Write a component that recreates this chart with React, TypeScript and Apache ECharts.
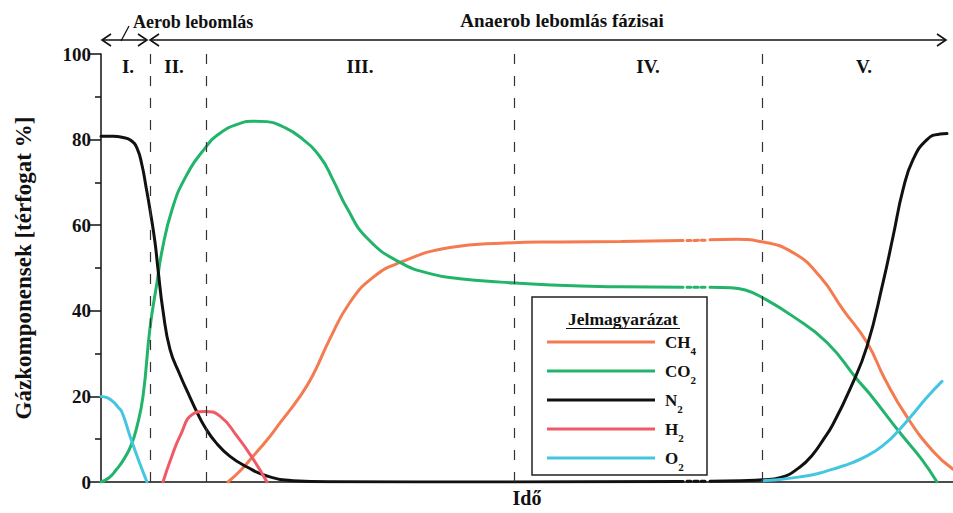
import React, { useEffect, useRef } from "react";
import * as echarts from "echarts";

const FONT = "'Liberation Serif', 'Times New Roman', serif";

// x: time (arbitrary units, 0..852), y: volume %
const ch4Early: [number, number][] = [[127, 0], [140, 2.8], [152, 6], [166, 9.8], [179, 13.8], [199, 20], [212, 25], [229, 33.5], [249, 42], [272, 47.8], [299, 51.3], [349, 54.8], [400, 55.8], [460, 56.1], [520, 56.2], [582, 56.4]];
const ch4Gap: [number, number][] = [[586, 56.4], [604, 56.5]];
const ch4Late: [number, number][] = [[609, 56.6], [635, 56.7], [659, 56.2], [692, 53.6], [719, 48], [742, 40.3], [766, 32.6], [784, 24], [806, 15.2], [832, 7.2], [852, 3]];

const co2Early: [number, number][] = [[0, 0], [8, 1], [15, 2.8], [22, 5], [30, 8.5], [36, 13], [42, 20], [49, 36], [56, 46.6], [61, 54], [71, 63.6], [84, 71], [104, 78], [119, 81.5], [139, 83.8], [152, 84.3], [166, 84.2], [182, 83], [199, 80.6], [219, 76], [232, 70.6], [246, 64], [266, 57], [299, 51.3], [332, 48.5], [359, 47.5], [400, 46.7], [450, 46], [520, 45.6], [582, 45.5]];
const co2Gap: [number, number][] = [[586, 45.5], [604, 45.5]];
const co2Late: [number, number][] = [[609, 45.5], [630, 45.4], [645, 44.8], [659, 43.4], [692, 38.7], [726, 32.6], [756, 24], [769, 20.5], [799, 11.5], [820, 5.5], [836, 0]];

const n2Early: [number, number][] = [[0, 80.8], [12, 80.8], [22, 80.5], [30, 79.8], [36, 78], [41, 74], [45, 69], [49, 63.6], [54, 56], [57, 49.7], [62, 40], [69, 31], [79, 25], [89, 19.8], [96, 16.3], [104, 12.8], [115, 9.2], [129, 6], [146, 3.5], [166, 1.4], [192, 0.3], [230, 0.05], [400, 0], [582, 0.1]];
const n2Gap: [number, number][] = [[586, 0.2], [604, 0.2]];
const n2Late: [number, number][] = [[609, 0.2], [640, 0.3], [662, 0.5], [679, 1], [699, 3.5], [712, 6.5], [722, 9.8], [732, 13.5], [749, 21.7], [766, 31.7], [782, 46.6], [792, 57.3], [802, 68.3], [812, 75.3], [826, 80], [839, 81.3], [846, 81.4]];

const h2: [number, number][] = [[62, 0], [70, 5.5], [79, 10.7], [92, 15.9], [104, 16.5], [119, 15.4], [136, 10.7], [152, 5.4], [166, 0]];

const o2Early: [number, number][] = [[0, 20], [6, 19.7], [12, 18.8], [17, 17.5], [21, 16.3], [29, 10.7], [39, 4.2], [46, 0]];
const o2Late: [number, number][] = [[662, 0.3], [699, 1.2], [732, 3], [766, 6.1], [786, 9.3], [799, 12.4], [812, 15.9], [826, 19.8], [841, 23.5]];

const phaseBounds = [49, 105, 413, 661];
const phaseLabels = ["I.", "II.", "III.", "IV.", "V."];
const phaseLabelX = [128, 174, 360, 648, 864];
const yTicks = [0, 20, 40, 60, 80, 100];

const legendNames = ["CH4", "CO2", "N2", "H2", "O2"];
const legendLabels: Record<string, string> = {
  CH4: "CH{s|4}",
  CO2: "CO{s|2}",
  N2: "N{s|2}",
  H2: "H{s|2}",
  O2: "O{s|2}",
};
const colors: Record<string, string> = {
  CH4: "#f47a50",
  CO2: "#22b46a",
  N2: "#111111",
  H2: "#ef5a66",
  O2: "#45c6e0",
};

function line(name: string, data: [number, number][], color: string, dotted = false, extra: any = {}) {
  return {
    type: "line",
    name,
    data,
    smooth: 0.5,
    showSymbol: false,
    symbol: "none",
    color,
    lineStyle: { color, width: 3, type: dotted ? [4, 3] : "solid", cap: "round" },
    ...extra,
  };
}

function chevron(tipX: number, tipY: number, dir: number) {
  return {
    type: "polyline",
    shape: { points: [[tipX - dir * 9, tipY - 6], [tipX, tipY], [tipX - dir * 9, tipY + 6]] },
    style: { stroke: "#111", lineWidth: 1.6, fill: null },
  };
}

export default function App() {
  const ref = useRef<HTMLDivElement>(null);
  useEffect(() => {
    if (!ref.current) return;
    const chart = echarts.init(ref.current, null, { renderer: "svg" });
    const textStyleBold = { fontFamily: FONT, fontWeight: "bold" as const, color: "#111" };
    const option: any = {
      animation: false,
      backgroundColor: "#fff",
      grid: { left: 101, right: 0, top: 54, bottom: 30, containLabel: false },
      xAxis: {
        type: "value",
        min: 0,
        max: 852,
        axisLine: { show: true, onZero: false, lineStyle: { color: "#111", width: 1.5 } },
        axisTick: { show: false },
        axisLabel: { show: false },
        splitLine: { show: false },
        name: "Idő",
        nameLocation: "middle",
        nameGap: 6,
        nameTextStyle: { ...textStyleBold, fontSize: 20 },
      },
      yAxis: {
        type: "value",
        min: 0,
        max: 100,
        interval: 20,
        axisLine: { show: true, lineStyle: { color: "#111", width: 1.5 } },
        axisTick: { show: true, length: 12, lineStyle: { color: "#111", width: 1.5 } },
        minorTick: { show: true, splitNumber: 2, length: 6, lineStyle: { color: "#111", width: 1.5 } },
        splitLine: { show: false },
        minorSplitLine: { show: false },
        axisLabel: { ...textStyleBold, fontSize: 19, margin: 10, formatter: (v: number) => (yTicks.includes(v) ? String(v) : "") },
        name: "Gázkomponensek [térfogat %]",
        nameLocation: "middle",
        nameGap: 66,
        nameTextStyle: { ...textStyleBold, fontSize: 23 },
      },
      legend: {
        data: legendNames,
        orient: "vertical",
        left: 547,
        top: 327.5,
        padding: 0,
        itemGap: 0,
        itemWidth: 108,
        itemHeight: 3,
        icon: "rect",
        selectedMode: false,
        z: 6,
        formatter: (name: string) => legendLabels[name],
        textStyle: {
          ...textStyleBold,
          fontSize: 17,
          lineHeight: 29,
          padding: [0, 0, 0, 5],
          rich: {
            s: { fontFamily: FONT, fontWeight: "bold", fontSize: 11, lineHeight: 20, verticalAlign: "bottom", color: "#111" },
          },
        },
      },
      graphic: [
        // top annotations
        { type: "line", shape: { x1: 102, y1: 40, x2: 147, y2: 40 }, style: { stroke: "#111", lineWidth: 1.6 } },
        chevron(102, 40, -1),
        chevron(147, 40, 1),
        { type: "line", shape: { x1: 121, y1: 41, x2: 129, y2: 26 }, style: { stroke: "#111", lineWidth: 1.3 } },
        { type: "line", shape: { x1: 150, y1: 40, x2: 946, y2: 40 }, style: { stroke: "#111", lineWidth: 1.6 } },
        chevron(150, 40, -1),
        chevron(946, 40, 1),
        { type: "text", x: 133, y: 22, style: { text: "Aerob lebomlás", fontFamily: FONT, fontWeight: "bold", fontSize: 18, fill: "#111", align: "left", verticalAlign: "middle" } },
        { type: "text", x: 562, y: 20, style: { text: "Anaerob lebomlás fázisai", fontFamily: FONT, fontWeight: "bold", fontSize: 19, fill: "#111", align: "center", verticalAlign: "middle" } },
        ...phaseLabels.map((t, i) => ({
          type: "text",
          x: phaseLabelX[i],
          y: 66,
          style: { text: t, fontFamily: FONT, fontWeight: "bold", fontSize: 19, fill: "#111", align: "center", verticalAlign: "middle" },
        })),
        // legend box
        { type: "rect", z: 3, shape: { x: 532, y: 297, width: 175, height: 178 }, style: { fill: "#fff", stroke: "#222", lineWidth: 1.5 } },
        { type: "text", z: 5, x: 623, y: 319, style: { text: "Jelmagyarázat", fontFamily: FONT, fontWeight: "bold", fontSize: 17.5, fill: "#111", align: "center", verticalAlign: "middle" } },
        { type: "line", z: 5, shape: { x1: 566, y1: 328.5, x2: 680, y2: 328.5 }, style: { stroke: "#111", lineWidth: 1.2 } },
      ],
      series: [
        line("CH4", ch4Early, colors.CH4),
        line("CH4 ", ch4Gap, colors.CH4, true),
        line("CH4  ", ch4Late, colors.CH4),
        line("CO2", co2Early, colors.CO2, false, {
          markLine: {
            silent: true,
            symbol: ["none", "none"],
            label: { show: false },
            lineStyle: { color: "#333", type: [10, 12], width: 1.2 },
            data: phaseBounds.map((x) => ({ xAxis: x })),
          },
        }),
        line("CO2 ", co2Gap, colors.CO2, true),
        line("CO2  ", co2Late, colors.CO2),
        line("N2", n2Early, colors.N2),
        line("N2 ", n2Gap, colors.N2, true),
        line("N2  ", n2Late, colors.N2),
        line("H2", h2, colors.H2),
        line("O2", o2Early, colors.O2),
        line("O2 ", o2Late, colors.O2),
      ],
    };
    chart.setOption(option);
    return () => chart.dispose();
  }, []);
  return <div ref={ref} style={{ position: "fixed", left: 0, top: 0, width: 953, height: 513 }} />;
}
